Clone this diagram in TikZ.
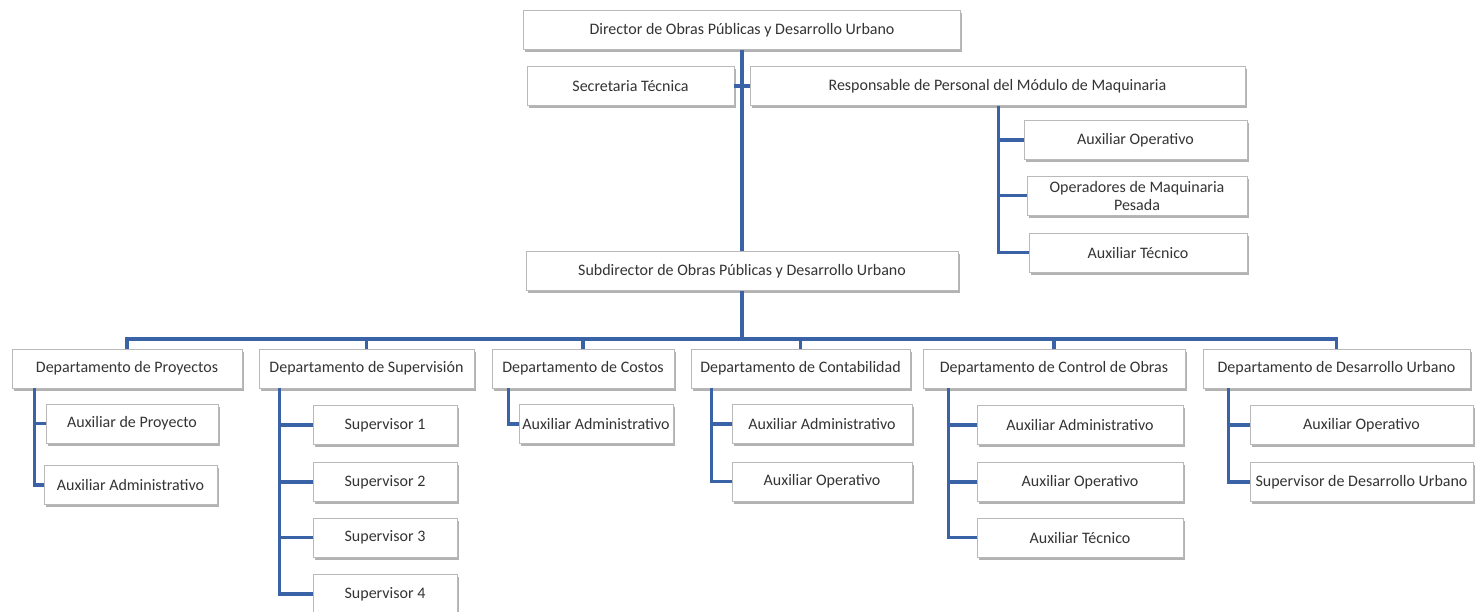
\documentclass[tikz,border=0pt]{standalone}
\usepackage{fontspec}
\setmainfont{Carlito}
\usepackage{tikz}
\usetikzlibrary{positioning, shadows}
\definecolor{myblue}{RGB}{58,98,166}
\definecolor{mygrey}{RGB}{185,185,185}
\definecolor{mytext}{RGB}{52,52,52}
\tikzset{
  box/.style={rectangle, draw=mygrey, fill=white, line width=0.8pt,
    minimum height=39pt, inner sep=2pt, align=center, text=mytext,
    font=\fontsize{16}{18}\selectfont,
    drop shadow={shadow xshift=1.5pt, shadow yshift=-2.5pt, fill=black, opacity=0.3}},
  link/.style={line width=3.2pt, color=myblue}
}

\begin{document}
\begin{tikzpicture}[x=1pt, y=-1pt]
  \useasboundingbox (0,0) rectangle (1481,611);
  % top
  \node[box, minimum width=437pt] (dir) at (742,30) {Director de Obras Públicas y Desarrollo Urbano};
  \node[box, minimum width=207pt] (sec) at (630.5,86) {Secretaria Técnica};
  \node[box, minimum width=495pt] (resp) at (997.5,86) {Responsable de Personal del Módulo de Maquinaria};
  \node[box, minimum width=223pt] (rao) at (1135.5,140) {Auxiliar Operativo};
  \node[box, minimum width=220pt] (rop) at (1137,195.5) {Operadores de Maquinaria\\Pesada};
  \node[box, minimum width=218pt] (rat) at (1138,252.5) {Auxiliar Técnico};
  \node[box, minimum width=432pt] (sub) at (742,271) {Subdirector de Obras Públicas y Desarrollo Urbano};
  % departamentos
  \node[box, minimum width=230pt] (proy) at (127,368.5) {Departamento de Proyectos};
  \node[box, minimum width=215pt] (sup) at (366.5,368.5) {Departamento de Supervisión};
  \node[box, minimum width=182pt] (cos) at (583,368.5) {Departamento de Costos};
  \node[box, minimum width=219pt] (cont) at (800.5,368.5) {Departamento de Contabilidad};
  \node[box, minimum width=262pt] (ctrl) at (1054,368.5) {Departamento de Control de Obras};
  \node[box, minimum width=267pt] (du) at (1336.5,368.5) {Departamento de Desarrollo Urbano};
  % auxiliares
  \node[box, minimum width=172pt] (apr) at (132,423.5) {Auxiliar de Proyecto};
  \node[box, minimum width=173pt] (aad) at (130.5,485) {Auxiliar Administrativo};
  \node[box, minimum width=144pt] (s1) at (385,425) {Supervisor 1};
  \node[box, minimum width=144pt] (s2) at (385,482) {Supervisor 2};
  \node[box, minimum width=144pt] (s3) at (385,537.5) {Supervisor 3};
  \node[box, minimum width=144pt] (s4) at (385,594) {Supervisor 4};
  \node[box, minimum width=154pt] (cad) at (596,424) {Auxiliar Administrativo};
  \node[box, minimum width=180pt] (tad) at (822,424) {Auxiliar Administrativo};
  \node[box, minimum width=180pt] (top) at (822,481.5) {Auxiliar Operativo};
  \node[box, minimum width=206pt] (oad) at (1080,425) {Auxiliar Administrativo};
  \node[box, minimum width=206pt] (oop) at (1080,482) {Auxiliar Operativo};
  \node[box, minimum width=206pt] (ote) at (1080,537.5) {Auxiliar Técnico};
  \node[box, minimum width=223pt] (uop) at (1361.5,425) {Auxiliar Operativo};
  \node[box, minimum width=223pt] (usu) at (1361.5,482) {Supervisor de Desarrollo Urbano};
  % lineas
  \coordinate (bus) at (742,339);
  \draw[link] (dir) -- (sub);
  \draw[link] (sec) -- (resp);
  \draw[link] (sub) -- (bus);
  \foreach \d in {proy,sup,cos,cont,ctrl,du}
    \draw[link] (\d.north) |- (bus);
  \foreach \c in {rao,rop,rat}
    \draw[link] ([xshift=249pt]resp.south west) |- (\c.west);
  \foreach \c in {apr,aad}
    \draw[link] ([xshift=23pt]proy.south west) |- (\c.west);
  \foreach \c in {s1,s2,s3,s4}
    \draw[link] ([xshift=21pt]sup.south west) |- (\c.west);
  \draw[link] ([xshift=17pt]cos.south west) |- (cad.west);
  \foreach \c in {tad,top}
    \draw[link] ([xshift=21pt]cont.south west) |- (\c.west);
  \foreach \c in {oad,oop,ote}
    \draw[link] ([xshift=26pt]ctrl.south west) |- (\c.west);
  \foreach \c in {uop,usu}
    \draw[link] ([xshift=26pt]du.south west) |- (\c.west);
\end{tikzpicture}
\end{document}
